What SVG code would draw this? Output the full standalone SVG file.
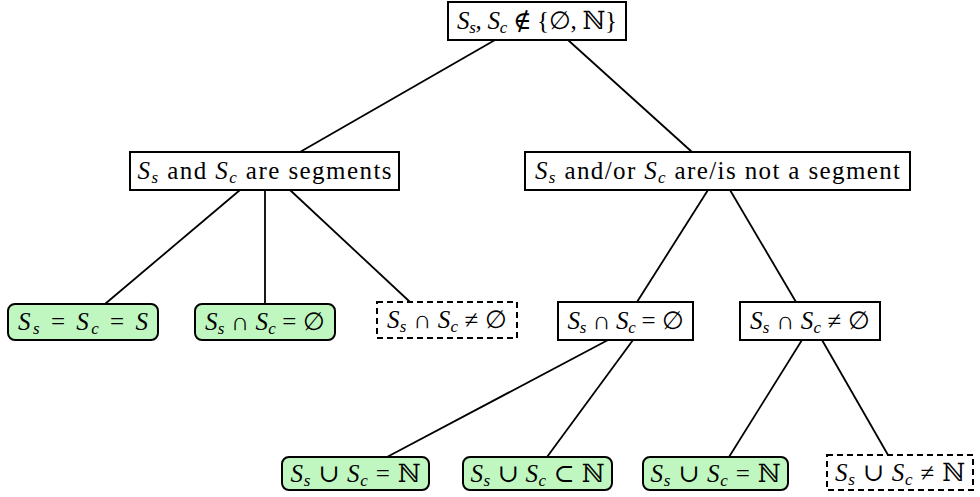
<svg xmlns="http://www.w3.org/2000/svg" width="980" height="497" viewBox="0 0 980 497">
<style>
.box{fill:#fff;stroke:#000;stroke-width:2}
.ok{fill:#c0f7c0;stroke:#000;stroke-width:2}
.dash{fill:#fff;stroke:#000;stroke-width:2;stroke-dasharray:6,4}
.edge{stroke:#000;stroke-width:1.8;fill:none}
text{font-family:"Liberation Serif","DejaVu Serif",serif;font-size:25px;text-anchor:middle;fill:#000}
.i{font-style:italic}
.sub{font-size:17px;font-style:italic}
</style>
<g id="connectors">
<line class="edge" x1="495" y1="40" x2="300" y2="152"/>
<line class="edge" x1="568" y1="40" x2="692" y2="152"/>
<line class="edge" x1="240" y1="190" x2="105" y2="304"/>
<line class="edge" x1="265" y1="190" x2="265" y2="304"/>
<line class="edge" x1="290" y1="190" x2="410" y2="302"/>
<line class="edge" x1="708" y1="190" x2="637" y2="302"/>
<line class="edge" x1="730" y1="190" x2="796" y2="302"/>
<line class="edge" x1="608" y1="340" x2="387" y2="457"/>
<line class="edge" x1="633" y1="340" x2="547" y2="457"/>
<line class="edge" x1="802" y1="340" x2="729" y2="457"/>
<line class="edge" x1="822" y1="340" x2="888" y2="455"/>
</g>
<g id="n0">
<rect class="box" x="448" y="2" width="178" height="38"/>
<text x="537" y="29" textLength="160" lengthAdjust="spacing"><tspan class="i">S</tspan><tspan class="sub" dy="4">s</tspan><tspan dy="-4">, </tspan><tspan class="i">S</tspan><tspan class="sub" dy="4">c</tspan><tspan dy="-4"> ∉ {∅, ℕ}</tspan></text>
</g>
<g id="n1">
<rect class="box" x="130" y="152" width="269" height="38"/>
<text x="264.5" y="179" textLength="254" lengthAdjust="spacing"><tspan class="i">S</tspan><tspan class="sub" dy="4">s</tspan><tspan dy="-4"> and </tspan><tspan class="i">S</tspan><tspan class="sub" dy="4">c</tspan><tspan dy="-4"> are segments</tspan></text>
</g>
<g id="n2">
<rect class="box" x="525" y="152" width="385" height="38"/>
<text x="717.5" y="179" textLength="365" lengthAdjust="spacing"><tspan class="i">S</tspan><tspan class="sub" dy="4">s</tspan><tspan dy="-4"> and/or </tspan><tspan class="i">S</tspan><tspan class="sub" dy="4">c</tspan><tspan dy="-4"> are/is not a segment</tspan></text>
</g>
<g id="n3">
<rect class="ok" x="8" y="304" width="150" height="36" rx="7"/>
<text x="83" y="330" textLength="130" lengthAdjust="spacing"><tspan class="i">S</tspan><tspan class="sub" dy="4">s</tspan><tspan dy="-4"> = </tspan><tspan class="i">S</tspan><tspan class="sub" dy="4">c</tspan><tspan dy="-4"> = </tspan><tspan class="i">S</tspan></text>
</g>
<g id="n4">
<rect class="ok" x="195" y="304" width="140" height="36" rx="7"/>
<text x="265" y="330" textLength="120" lengthAdjust="spacing"><tspan class="i">S</tspan><tspan class="sub" dy="4">s</tspan><tspan dy="-4"> ∩ </tspan><tspan class="i">S</tspan><tspan class="sub" dy="4">c</tspan><tspan dy="-4"> = ∅</tspan></text>
</g>
<g id="n5">
<rect class="dash" x="377" y="302" width="140" height="36"/>
<text x="447" y="328" textLength="120" lengthAdjust="spacing"><tspan class="i">S</tspan><tspan class="sub" dy="4">s</tspan><tspan dy="-4"> ∩ </tspan><tspan class="i">S</tspan><tspan class="sub" dy="4">c</tspan><tspan dy="-4"> ≠ ∅</tspan></text>
</g>
<g id="n6">
<rect class="box" x="558" y="302" width="135" height="38"/>
<text x="625.5" y="329" textLength="116" lengthAdjust="spacing"><tspan class="i">S</tspan><tspan class="sub" dy="4">s</tspan><tspan dy="-4"> ∩ </tspan><tspan class="i">S</tspan><tspan class="sub" dy="4">c</tspan><tspan dy="-4"> = ∅</tspan></text>
</g>
<g id="n7">
<rect class="box" x="740" y="302" width="140" height="38"/>
<text x="810" y="329" textLength="120" lengthAdjust="spacing"><tspan class="i">S</tspan><tspan class="sub" dy="4">s</tspan><tspan dy="-4"> ∩ </tspan><tspan class="i">S</tspan><tspan class="sub" dy="4">c</tspan><tspan dy="-4"> ≠ ∅</tspan></text>
</g>
<g id="n8">
<rect class="ok" x="282" y="457" width="147" height="33" rx="7"/>
<text x="355.5" y="482" textLength="130" lengthAdjust="spacing"><tspan class="i">S</tspan><tspan class="sub" dy="4">s</tspan><tspan dy="-4"> ∪ </tspan><tspan class="i">S</tspan><tspan class="sub" dy="4">c</tspan><tspan dy="-4"> = ℕ</tspan></text>
</g>
<g id="n9">
<rect class="ok" x="463" y="457" width="149" height="33" rx="7"/>
<text x="537.5" y="482" textLength="134" lengthAdjust="spacing"><tspan class="i">S</tspan><tspan class="sub" dy="4">s</tspan><tspan dy="-4"> ∪ </tspan><tspan class="i">S</tspan><tspan class="sub" dy="4">c</tspan><tspan dy="-4"> ⊂ ℕ</tspan></text>
</g>
<g id="n10">
<rect class="ok" x="643" y="457" width="145" height="33" rx="7"/>
<text x="715.5" y="482" textLength="130" lengthAdjust="spacing"><tspan class="i">S</tspan><tspan class="sub" dy="4">s</tspan><tspan dy="-4"> ∪ </tspan><tspan class="i">S</tspan><tspan class="sub" dy="4">c</tspan><tspan dy="-4"> = ℕ</tspan></text>
</g>
<g id="n11">
<rect class="dash" x="827" y="455" width="146" height="35"/>
<text x="900" y="481" textLength="130" lengthAdjust="spacing"><tspan class="i">S</tspan><tspan class="sub" dy="4">s</tspan><tspan dy="-4"> ∪ </tspan><tspan class="i">S</tspan><tspan class="sub" dy="4">c</tspan><tspan dy="-4"> ≠ ℕ</tspan></text>
</g>
</svg>
